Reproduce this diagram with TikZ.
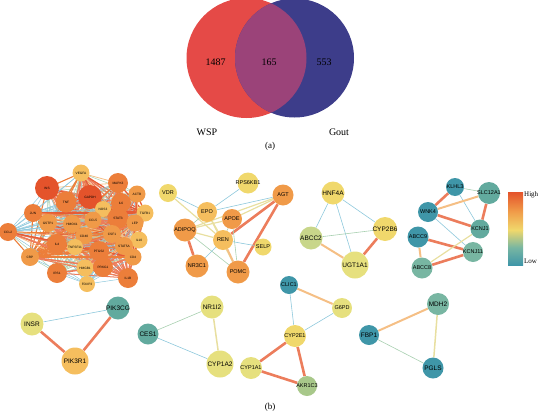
\documentclass[tikz,border=0pt]{standalone}
\usepackage{fontspec}
\setmainfont{Liberation Serif}
\newfontfamily\gsans{Liberation Sans}
\usetikzlibrary{backgrounds}
\definecolor{vred}{HTML}{E54A47}
\definecolor{vblue}{HTML}{3D3D8A}
\definecolor{vpur}{HTML}{9B4379}
\definecolor{cr}{HTML}{E4532B}
\definecolor{co}{HTML}{EC7E3A}
\definecolor{cl}{HTML}{F09A48}
\definecolor{cy}{HTML}{F5BE5E}
\definecolor{cyy}{HTML}{F0D86C}
\definecolor{cyl}{HTML}{E6E07E}
\definecolor{cgy}{HTML}{C8D68A}
\definecolor{cgr}{HTML}{A8C88A}
\definecolor{ct}{HTML}{3F96A8}
\definecolor{ctg}{HTML}{62AA9E}
\definecolor{ctl}{HTML}{78B6A2}
\definecolor{eR}{HTML}{EC7D5C}
\definecolor{eO}{HTML}{F5BF85}
\definecolor{eY}{HTML}{E8DFA0}
\definecolor{eB}{HTML}{8EC8DC}
\definecolor{eG}{HTML}{A8D0B0}
\tikzset{
  gsl/.style={font=\gsans\fontsize{5.5}{5.5}\selectfont, inner sep=0pt},
  gbl/.style={font=\gsans\fontsize{6.5}{6.5}\selectfont, inner sep=0pt},
  dsl/.style={font=\gsans\fontsize{3.2}{3.2}\selectfont, inner sep=0pt},
  gn/.style n args={3}{circle, fill=#1, minimum size=#2, inner sep=0pt, label={[gsl]center:#3}},
  gb/.style n args={3}{circle, fill=#1, minimum size=#2, inner sep=0pt, label={[gbl]center:#3}},
  dn/.style n args={3}{circle, fill=#1, minimum size=#2, inner sep=0pt, label={[dsl]center:#3}},
  eRed/.style={draw=eR, line width=2.6pt},
  eOr/.style={draw=eO, line width=2pt},
  eYe/.style={draw=eY, line width=1.2pt},
  eBl/.style={draw=eB, line width=0.6pt},
  eGr/.style={draw=eG, line width=0.6pt},
  lbl/.style={font=\fontsize{10}{10}\selectfont},
}
\begin{document}
\begin{tikzpicture}[x=1pt,y=-1pt]
\useasboundingbox (0,0) rectangle (540,415);
% Venn
\fill[vred] (246.5,58) circle (60);
\fill[vblue] (294.5,58) circle (59.5);
\begin{scope}
\clip (246.5,58) circle (60);
\fill[vpur] (294.5,58) circle (59.5);
\end{scope}
\node[lbl] (n1) at (215.5,62) {1487};
\node[lbl] (n2) at (269,62) {165};
\node[lbl] (n3) at (324,62) {553};
\node[lbl] (wsp) at (207,132) {WSP};
\node[lbl] (gout) at (339,132) {Gout};
\node[font=\fontsize{9}{9}\selectfont] (capa) at (270,146) {(a)};
\node[font=\fontsize{9}{9}\selectfont] (capb) at (270,407) {(b)};

% dense cluster
\node[dn={cr}{24pt}{INS}] (d1) at (47,188) {};
\node[dn={cr}{24pt}{GAPDH}] (d2) at (90,197) {};
\node[dn={co}{21pt}{TNF}] (d3) at (66,202) {};
\node[dn={cy}{17pt}{VEGFA}] (d4) at (81,173) {};
\node[dn={co}{20pt}{MAPK3}] (d5) at (118,183) {};
\node[dn={cl}{17pt}{ACTB}] (d6) at (137,194) {};
\node[dn={co}{20pt}{IL6}] (d7) at (121,203) {};
\node[dn={cy}{16pt}{NOS3}] (d8) at (103,209) {};
\node[dn={co}{18pt}{JUN}] (d9) at (33,213) {};
\node[dn={cy}{17pt}{TGFB1}] (d10) at (145,213) {};
\node[dn={co}{21pt}{STAT3}] (d11) at (118,218) {};
\node[dn={cl}{17pt}{CCL5}] (d12) at (93,220) {};
\node[dn={cl}{18pt}{GSTP1}] (d13) at (48,223) {};
\node[dn={cl}{18pt}{HMOX1}] (d14) at (72,224) {};
\node[dn={cl}{17pt}{LEP}] (d15) at (135,223) {};
\node[dn={co}{18pt}{CCL2}] (d16) at (8,232) {};
\node[dn={cl}{17pt}{CD40}] (d17) at (84,236) {};
\node[dn={cl}{18pt}{CSF1}] (d18) at (112,234) {};
\node[dn={cy}{17pt}{IL10}] (d19) at (139,240) {};
\node[dn={co}{20pt}{IL4}] (d20) at (57,244) {};
\node[dn={cy}{16pt}{TNFSF11}] (d21) at (75,247) {};
\node[dn={co}{20pt}{PTGS2}] (d22) at (99,251) {};
\node[dn={cl}{18pt}{STAT5A}] (d23) at (124,246) {};
\node[dn={cl}{17pt}{CD4}] (d24) at (133,257) {};
\node[dn={cl}{18pt}{CRP}] (d25) at (30,257) {};
\node[dn={cy}{17pt}{HMGB1}] (d26) at (85,268) {};
\node[dn={co}{20pt}{IRS1}] (d27) at (57,273) {};
\node[dn={co}{20pt}{PRKG1}] (d28) at (103,267) {};
\node[dn={co}{20pt}{IL1B}] (d29) at (128,278) {};
\node[dn={cy}{16pt}{FOXP3}] (d30) at (87,284) {};
\begin{scope}[on background layer]
\foreach \i in {1,...,29}{
  \pgfmathtruncatemacro{\s}{\i+1}
  \foreach \j in {\s,...,30}{
    \pgfmathtruncatemacro{\k}{mod(\i*7+\j*11,7)}
    \ifcase\k
      \draw[draw=eR, line width=1.6pt] (d\i.center) -- (d\j.center);
    \or
      \draw[draw=eB, line width=0.5pt] (d\i.center) -- (d\j.center);
    \or
      \draw[draw=co, line width=1.1pt] (d\i.center) -- (d\j.center);
    \or
      \draw[draw=eG, line width=0.5pt] (d\i.center) -- (d\j.center);
    \or
      \draw[draw=eR, line width=1pt] (d\i.center) -- (d\j.center);
    \or
      \draw[draw=cr!80!eR, line width=1.3pt] (d\i.center) -- (d\j.center);
    \else
      \draw[draw=eO, line width=0.8pt] (d\i.center) -- (d\j.center);
    \fi
  }
}
\end{scope}

% cluster 2
\node[gn={cyy}{18pt}{VDR}] (vdr) at (168,193) {};
\node[gn={cyy}{21pt}{RPS6KB1}] (rps) at (248,183) {};
\node[gn={cl}{21pt}{AGT}] (agt) at (283,195) {};
\node[gn={cy}{20pt}{EPO}] (epo) at (207,212) {};
\node[gn={cl}{20pt}{APOE}] (apoe) at (232,219) {};
\node[gn={cl}{23pt}{ADIPOQ}] (adipoq) at (185,230) {};
\node[gn={cy}{20pt}{REN}] (ren) at (223,240) {};
\node[gn={cyy}{17pt}{SELP}] (selp) at (263,247) {};
\node[gn={cl}{23pt}{NR3C1}] (nr3c1) at (197,266) {};
\node[gn={cl}{23pt}{POMC}] (pomc) at (238,272) {};
\begin{scope}[on background layer]
\draw[eBl] (vdr) -- (epo);
\draw[eYe] (vdr) -- (ren);
\draw[eBl] (rps) -- (epo);
\draw[eBl] (agt) -- (epo);
\draw[eYe] (agt) -- (apoe);
\draw[eYe] (agt) -- (adipoq);
\draw[eRed] (agt) -- (ren);
\draw[eRed] (agt) -- (pomc);
\draw[eGr] (epo) -- (adipoq);
\draw[eYe] (epo) -- (ren);
\draw[eYe] (epo) -- (pomc);
\draw[eYe] (apoe) -- (adipoq);
\draw[eGr] (apoe) -- (ren);
\draw[eGr] (apoe) -- (pomc);
\draw[eYe] (adipoq) -- (ren);
\draw[eGr] (adipoq) -- (pomc);
\draw[eRed] (adipoq) -- (nr3c1);
\draw[eBl] (ren) -- (selp);
\draw[eOr] (ren) -- (pomc);
\draw[eBl] (ren) -- (nr3c1);
\end{scope}

% cluster 3
\node[gb={cyy}{23pt}{HNF4A}] (hnf) at (333,193) {};
\node[gb={cgy}{23pt}{ABCC2}] (abcc2) at (311,238) {};
\node[gb={cyl}{27pt}{UGT1A1}] (ugt) at (355,265) {};
\node[gb={cyy}{24pt}{CYP2B6}] (cyp2b6) at (385,229) {};
\begin{scope}[on background layer]
\draw[eBl] (hnf) -- (abcc2);
\draw[eBl] (hnf) -- (ugt);
\draw[eBl] (hnf) -- (cyp2b6);
\draw[eOr] (abcc2) -- (ugt);
\draw[eGr] (abcc2) -- (cyp2b6);
\draw[eRed] (ugt) -- (cyp2b6);
\end{scope}

% cluster 4
\node[gn={ct}{18pt}{KLHL3}] (klhl3) at (455,187) {};
\node[gn={ctg}{22pt}{SLC12A1}] (slc) at (489,193) {};
\node[gn={ct}{20pt}{WNK4}] (wnk4) at (428,212) {};
\node[gn={ctg}{19pt}{KCNJ1}] (kcnj1) at (480,229) {};
\node[gn={ct}{21pt}{ABCC9}] (abcc9) at (418,237) {};
\node[gn={ctl}{20pt}{KCNJ11}] (kcnj11) at (473,252) {};
\node[gn={ctl}{21pt}{ABCC8}] (abcc8) at (422,268) {};
\begin{scope}[on background layer]
\draw[eGr] (klhl3) -- (slc);
\draw[eRed] (klhl3) -- (wnk4);
\draw[eBl] (klhl3) -- (kcnj1);
\draw[eOr] (wnk4) -- (slc);
\draw[eRed] (wnk4) -- (kcnj1);
\draw[eBl] (wnk4) -- (kcnj11);
\draw[eRed] (slc) -- (kcnj1);
\draw[eRed] (abcc9) -- (kcnj11);
\draw[eOr] (abcc9) -- (abcc8);
\draw[eRed] (abcc8) -- (kcnj11);
\draw[eYe] (abcc8) -- (kcnj1);
\end{scope}

% legend
\shade[top color=cr, bottom color=cyy, middle color=cl] (508,192) rectangle (523,230);
\shade[top color=cyy, bottom color=ct, middle color=ctl] (508,230) rectangle (523,265);
\node[anchor=west, font=\fontsize{7}{7}\selectfont, inner sep=1pt] (high) at (523,195) {High};
\node[anchor=west, font=\fontsize{7}{7}\selectfont, inner sep=1pt] (low) at (523,261) {Low};

% bottom clusters
\node[gb={cyl}{23pt}{INSR}] (insr) at (32,324) {};
\node[gb={ctg}{23pt}{PIK3CG}] (pik3cg) at (118,308) {};
\node[gb={cy}{27pt}{PIK3R1}] (pik3r1) at (75,361) {};
\begin{scope}[on background layer]
\draw[eBl] (insr) -- (pik3cg);
\draw[eRed] (insr) -- (pik3r1);
\draw[eRed] (pik3r1) -- (pik3cg);
\end{scope}

\node[gb={cyl}{23pt}{NR1I2}] (nr1i2) at (212,307) {};
\node[gb={ctg}{21pt}{CES1}] (ces1) at (148,334) {};
\node[gb={cyl}{27pt}{CYP1A2}] (cyp1a2) at (220,364) {};
\begin{scope}[on background layer]
\draw[eGr] (ces1) -- (nr1i2);
\draw[eBl] (ces1) -- (cyp1a2);
\draw[draw=eY, line width=1.5pt] (nr1i2) -- (cyp1a2);
\end{scope}

\node[gn={ct}{18pt}{CLIC1}] (clic1) at (289,285) {};
\node[gn={cyl}{20pt}{G6PD}] (g6pd) at (342,308) {};
\node[gn={cyy}{22pt}{CYP2E1}] (cyp2e1) at (295,336) {};
\node[gn={cgr}{20pt}{AKR1C3}] (akr) at (307,386) {};
\node[gn={cyl}{22pt}{CYP1A1}] (cyp1a1) at (251,368) {};
\begin{scope}[on background layer]
\draw[eOr] (clic1) -- (g6pd);
\draw[eBl] (clic1) -- (cyp2e1);
\draw[eBl] (g6pd) -- (cyp2e1);
\draw[eRed] (cyp2e1) -- (cyp1a1);
\draw[eRed] (cyp2e1) -- (akr);
\draw[eRed] (cyp1a1) -- (akr);
\end{scope}

\node[gb={ctl}{22pt}{MDH2}] (mdh2) at (438,304) {};
\node[gb={ct}{20pt}{FBP1}] (fbp1) at (369,335) {};
\node[gb={ct}{21pt}{PGLS}] (pgls) at (433,368) {};
\begin{scope}[on background layer]
\draw[eOr] (fbp1) -- (mdh2);
\draw[draw=eY, line width=1.5pt] (mdh2) -- (pgls);
\draw[eGr] (fbp1) -- (pgls);
\end{scope}
\end{tikzpicture}
\end{document}
